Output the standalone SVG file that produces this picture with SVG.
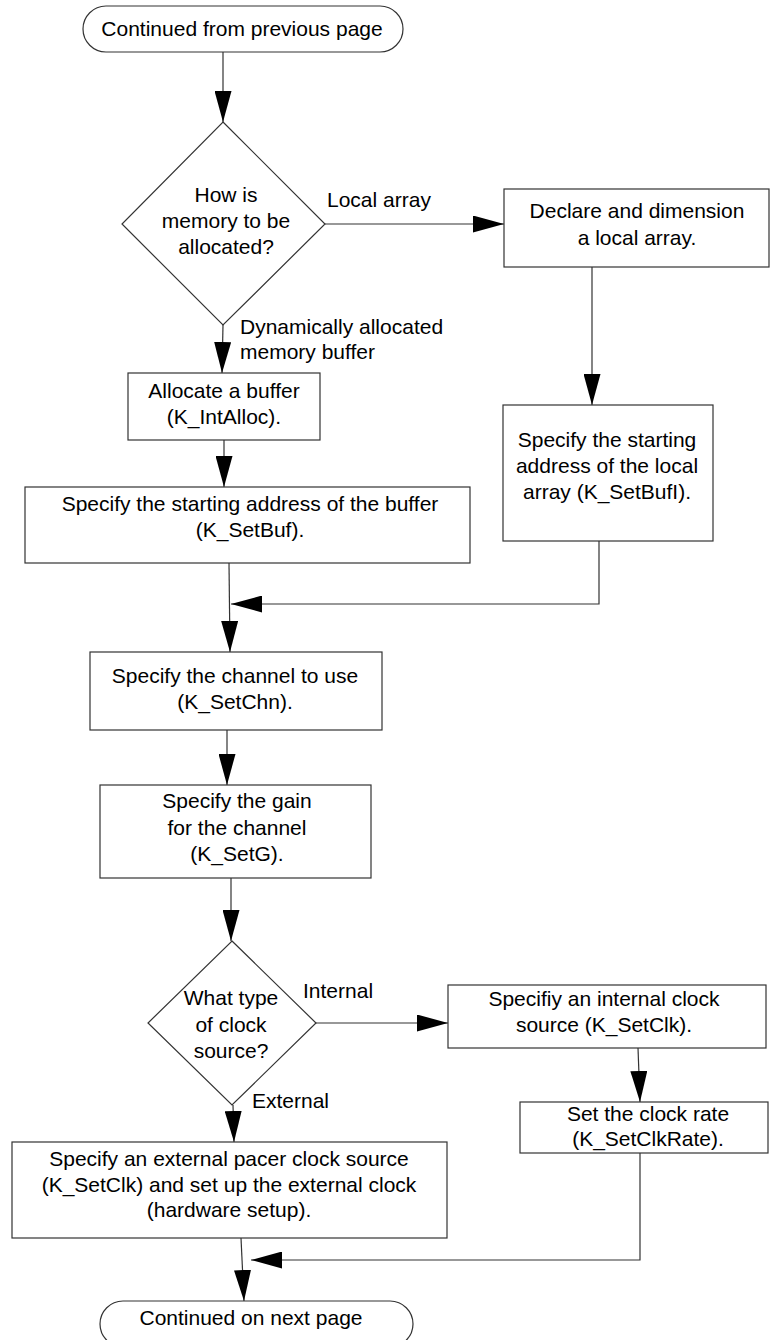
<svg xmlns="http://www.w3.org/2000/svg" width="776" height="1340" viewBox="0 0 776 1340">
<style>
.s{fill:#fff;stroke:#333;stroke-width:1.2}
.t{font-family:"Liberation Sans",Arial,sans-serif;font-size:21px;fill:#000;text-anchor:middle}
.l{font-family:"Liberation Sans",Arial,sans-serif;font-size:21px;fill:#000}
.c{fill:none;stroke:#333;stroke-width:1.2}
</style>
<defs>
<marker id="a" markerUnits="userSpaceOnUse" markerWidth="31" markerHeight="17" refX="31" refY="8.5" orient="auto">
<path d="M0,0 L31,8.5 L0,17 Z" fill="#000"/>
</marker>
</defs>
<rect width="776" height="1340" fill="#fff"/>
<g id="connectors">
<line class="c" x1="223" y1="52" x2="223" y2="122" marker-end="url(#a)"/>
<line class="c" x1="325" y1="224" x2="504" y2="224" marker-end="url(#a)"/>
<line class="c" x1="223" y1="325" x2="222" y2="373" marker-end="url(#a)"/>
<line class="c" x1="224" y1="440" x2="224" y2="487" marker-end="url(#a)"/>
<line class="c" x1="592" y1="267" x2="592" y2="405" marker-end="url(#a)"/>
<line class="c" x1="229" y1="563" x2="230" y2="652" marker-end="url(#a)"/>
<polyline class="c" points="599,541 599,604 231,604" marker-end="url(#a)"/>
<line class="c" x1="227" y1="730" x2="227" y2="785" marker-end="url(#a)"/>
<line class="c" x1="231" y1="878" x2="231" y2="941" marker-end="url(#a)"/>
<line class="c" x1="316" y1="1023" x2="448" y2="1023" marker-end="url(#a)"/>
<line class="c" x1="638" y1="1048" x2="640" y2="1102" marker-end="url(#a)"/>
<line class="c" x1="233" y1="1105" x2="234" y2="1142" marker-end="url(#a)"/>
<polyline class="c" points="640,1153 640,1260 251,1260" marker-end="url(#a)"/>
<line class="c" x1="241" y1="1238" x2="244" y2="1301" marker-end="url(#a)"/>
<text class="l" x="327" y="207">Local array</text>
<text class="l" x="240" y="334">Dynamically allocated</text>
<text class="l" x="240" y="359">memory buffer</text>
<text class="l" x="303" y="998">Internal</text>
<text class="l" x="252" y="1108">External</text>
</g>
<g id="start">
<rect class="s" x="83" y="6" width="320" height="46" rx="23"/>
<text class="t" x="242" y="36">Continued from previous page</text>
</g>
<g id="decision-memory">
<polygon class="s" points="223,122 325,224 223,325 122,224"/>
<text class="t" x="226" y="202">How is</text>
<text class="t" x="226" y="228">memory to be</text>
<text class="t" x="226" y="254">allocated?</text>
</g>
<g id="declare-array">
<rect class="s" x="504" y="189" width="265" height="78"/>
<text class="t" x="637" y="218">Declare and dimension</text>
<text class="t" x="637" y="245">a local array.</text>
</g>
<g id="allocate-buffer">
<rect class="s" x="128" y="373" width="192" height="67"/>
<text class="t" x="224" y="398">Allocate a buffer</text>
<text class="t" x="224" y="424">(K_IntAlloc).</text>
</g>
<g id="set-bufl">
<rect class="s" x="503" y="405" width="210" height="136"/>
<text class="t" x="607" y="447">Specify the starting</text>
<text class="t" x="607" y="473">address of the local</text>
<text class="t" x="607" y="499">array (K_SetBufI).</text>
</g>
<g id="set-buf">
<rect class="s" x="25" y="487" width="445" height="76"/>
<text class="t" x="250" y="511">Specify the starting address of the buffer</text>
<text class="t" x="250" y="537">(K_SetBuf).</text>
</g>
<g id="set-chn">
<rect class="s" x="90" y="652" width="292" height="78"/>
<text class="t" x="235" y="683">Specify the channel to use</text>
<text class="t" x="235" y="709">(K_SetChn).</text>
</g>
<g id="set-gain">
<rect class="s" x="100" y="785" width="271" height="93"/>
<text class="t" x="237" y="808">Specify the gain</text>
<text class="t" x="237" y="835">for the channel</text>
<text class="t" x="237" y="861">(K_SetG).</text>
</g>
<g id="decision-clock">
<polygon class="s" points="232,941 316,1023 232,1105 148,1023"/>
<text class="t" x="231" y="1005">What type</text>
<text class="t" x="231" y="1032">of clock</text>
<text class="t" x="231" y="1058">source?</text>
</g>
<g id="internal-clock">
<rect class="s" x="448" y="985" width="318" height="63"/>
<text class="t" x="604" y="1006">Specifiy an internal clock</text>
<text class="t" x="604" y="1032">source (K_SetClk).</text>
</g>
<g id="clock-rate">
<rect class="s" x="520" y="1102" width="248" height="51"/>
<text class="t" x="648" y="1121">Set the clock rate</text>
<text class="t" x="648" y="1146">(K_SetClkRate).</text>
</g>
<g id="external-clock">
<rect class="s" x="12" y="1142" width="435" height="96"/>
<text class="t" x="229" y="1166">Specify an external pacer clock source</text>
<text class="t" x="229" y="1192">(K_SetClk) and set up the external clock</text>
<text class="t" x="229" y="1217">(hardware setup).</text>
</g>
<g id="end">
<rect class="s" x="100" y="1301" width="313" height="46" rx="23"/>
<text class="t" x="251" y="1325">Continued on next page</text>
</g>
</svg>
